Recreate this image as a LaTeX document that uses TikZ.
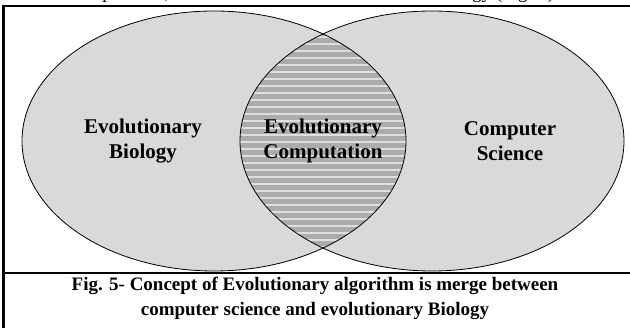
\documentclass[tikz,border=0pt]{standalone}
\usepackage{fontspec}
\setmainfont{Liberation Serif}
\usetikzlibrary{shapes.geometric}
\begin{document}
\begin{tikzpicture}
[
x=1pt, y=-1pt,
setellipse/.style={ellipse, draw=black, thick, minimum width=384pt, minimum height=260pt, inner sep=0},
setlabel/.style={align=center, font=\fontsize{21}{25}\selectfont\bfseries},
caption/.style={align=center, font=\fontsize{19}{25}\selectfont\bfseries},
frame/.style={line width=2.4pt, black}
]
\useasboundingbox (0,0) rectangle (630,328);
\clip (0,0) rectangle (630,328);
%Sets
\fill[gray!30] (214,141) ellipse [x radius=192, y radius=130];
\fill[gray!30] (432,141) ellipse [x radius=192, y radius=130];
\begin{scope}
\clip (214,141) ellipse [x radius=192, y radius=130];
\clip (432,141) ellipse [x radius=192, y radius=130];
\fill[gray!65] (230,0) rectangle (420,280);
\foreach \y in {30,37,...,255}
  \draw[gray!25, line width=1.6pt] (230,\y) -- (420,\y);
\end{scope}
%Nodes
\node[setellipse] at(214,141)		(bio) {};
\node[setellipse] at(432,141)		(cs) {};
\node[setlabel]	(lbio) at(143,141) {Evolutionary\\Biology};
\node[setlabel]	(lec) at(323,141) {Evolutionary\\Computation};
\node[setlabel]	(lcs) at(510,141) {Computer\\Science};
%Frame
\draw[frame] (3.5,6) -- (630,6);
\draw[frame] (3.5,4.8) -- (3.5,328);
\draw[frame] (3.5,273) -- (630,273);
%Text
\node[anchor=base west, font=\fontsize{19}{25}\selectfont]	(top1) at(66,-1) {computation,};
\node[anchor=base east, font=\fontsize{19}{25}\selectfont]	(top2) at(558,-1) {biology (Fig. 5)};
\node[caption]	(cap) at(315,298) {Fig. 5- Concept of Evolutionary algorithm is merge between\\computer science and evolutionary Biology};
\end{tikzpicture}
\end{document}
